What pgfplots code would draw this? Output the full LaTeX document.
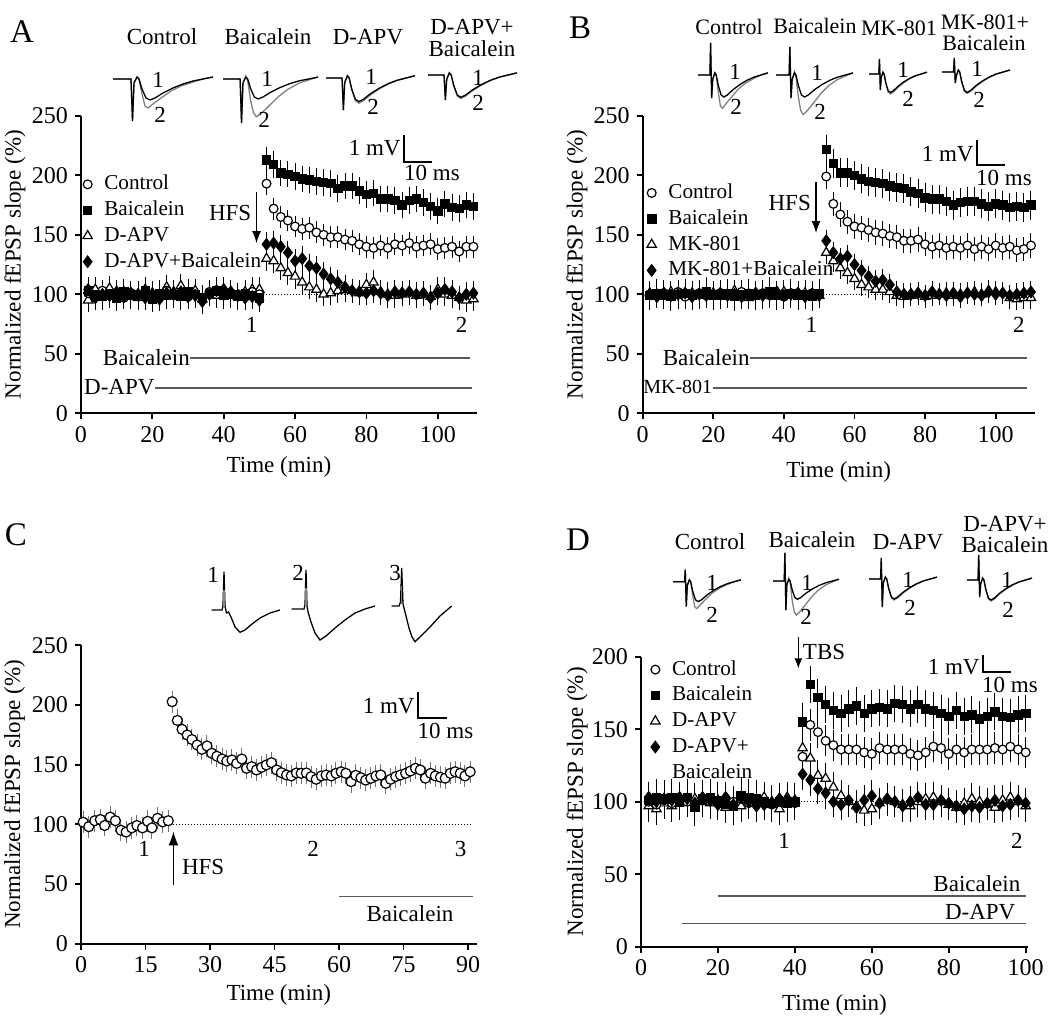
\documentclass[border=0pt]{standalone}
\usepackage{fontspec}
\setmainfont{Liberation Serif}
\usepackage{pgfplots}
\pgfplotsset{compat=1.18}
\usepackage{pgfplotstable}
\usetikzlibrary{arrows.meta}

\newcommand\fA{\fontsize{11.5}{13.5}\selectfont}
\newcommand\fB{\fontsize{11}{13}\selectfont}
\newcommand\fG{\fontsize{10.6}{12.5}\selectfont}
\newcommand\fT{\fontsize{12}{14}\selectfont}
\newcommand\fP{\fontsize{16.5}{19}\selectfont}
\newcommand\fS{\fontsize{10}{12}\selectfont}

\pgfplotsset{
  panel/.style={scale only axis, anchor=south west, axis lines=left,
    axis line style={-, line width=1.1pt}, tick align=outside, major tick length=3pt,
    every tick/.style={line width=0.9pt, black}, tick label style={font=\fT},
    label style={font=\fA}, /pgf/number format/assume math mode=true,
    clip=false, enlargelimits=false,
    legend style={draw=none, fill=none, font=\fG, inner sep=0pt, row sep=0.4pt,
      nodes={inner sep=1pt, text height=8pt, text depth=2.5pt},
      /tikz/every odd column/.style={column sep=5pt}},
    legend cell align=left,
    legend image code/.code={\draw[mark repeat=2,mark phase=2,##1] plot coordinates {(0cm,0cm)(0.15cm,0cm)(0.3cm,0cm)};}},
  sC/.style={only marks, color=black, mark=*, mark size=2.2pt, mark options={fill=white, draw=black, line width=0.6pt}},
  sB/.style={only marks, color=black, mark=square*, mark size=2.1pt, mark options={fill=black, draw=black}},
  sT/.style={only marks, color=black, mark=triangle*, mark size=2.7pt, mark options={fill=white, draw=black, line width=0.6pt}},
  sD/.style={only marks, color=black, mark=diamond*, mark size=3pt, mark options={fill=black, draw=black}},
  eb/.style={forget plot, error bars/y dir=both, error bars/y fixed=#1,
    error bars/error bar style={line width=0.5pt}, error bars/error mark options={line width=0.5pt, mark size=1.3pt}},
  overlay/.style={at={(0pt,0pt)}, anchor=south west, scale only axis, width=531.5pt, height=511pt,
    xmin=0, xmax=1063, ymin=0, ymax=1022, y dir=reverse, hide axis, clip=false}
}
\newcommand\legC{\addlegendimage{only marks, mark=*, mark size=2.2pt, mark options={fill=white, draw=black, line width=0.6pt}}}
\newcommand\legB{\addlegendimage{only marks, mark=square*, mark size=2.1pt, mark options={fill=black, draw=black}}}
\newcommand\legT{\addlegendimage{only marks, mark=triangle*, mark size=2.7pt, mark options={fill=white, draw=black, line width=0.6pt}}}
\newcommand\legD{\addlegendimage{only marks, mark=diamond*, mark size=3pt, mark options={fill=black, draw=black}}}

% fEPSP trace shapes: x (percent of width), y (px down), a (artifact down), u (artifact up)
\pgfplotstableread{
x y a u
0 0 0 0
17 0 0 0
18 0 0 1
19.5 0 1 0
21 4 0 0
24 -2 0 0
26 0 0 0
29 10 0 0
33 19 0 0
37 21 0 0
42 19 0 0
50 14 0 0
60 9 0 0
70 5 0 0
80 2 0 0
90 0 0 0
100 -2 0 0
}\tEa
\pgfplotstableread{
x y a u
0 0 0 0
17 0 0 0
18 0 0 1
19.5 0 1 0
21 4 0 0
24 -2 0 0
26 0 0 0
29 15 0 0
32 27 0 0
35 29 0 0
40 25 0 0
48 19 0 0
58 12 0 0
68 7 0 0
80 3 0 0
90 0 0 0
100 -2 0 0
}\tEb
\pgfplotstableread{
x y a u
0 0 0 0
17 0 0 0
18 0 0 1
19.5 0 1 0
21 4 0 0
24 -3 0 0
26 2 0 0
29 20 0 0
32 32 0 0
35 36 0 0
40 33 0 0
48 26 0 0
58 17 0 0
68 10 0 0
80 4 0 0
90 1 0 0
100 -2 0 0
}\tEc
% table, X0, Y0, W, S, A, U, style
\newcommand{\trc}[8]{\addplot[#8, line width=0.65pt] table[x expr={#2+\thisrow{x}*#4/100}, y expr={#3+\thisrow{y}*#5+\thisrow{a}*#6-\thisrow{u}*#7}] {#1};}

\pgfplotstableread{
t ctrl bai apv apvb
2 101 103 95 104
4 98 100 104 97
6 103 98 101 100
8 99 101 105 99
10 100 97 98 102
12 97 102 102 98
14 101 99 100 101
16 99 100 97 100
18 102 103 104 97
20 98 96 101 99
22 100 101 99 96
24 103 99 106 101
26 99 100 102 100
28 101 98 107 102
30 98 102 100 98
32 100 100 103 99
34 97 97 96 94
36 102 101 101 100
38 100 103 99 103
40 99 99 104 104
42 101 100 100 102
44 100 98 98 99
46 98 101 102 97
48 102 99 104 98
50 100 97 104 95
52 193 213 130 142
54 172 209 128 143
56 165 202 122 140
58 162 201 118 135
60 157 199 115 128
62 155 197 110 130
64 156 196 106 124
66 152 195 104 122
68 150 194 100 117
70 148 193 101 113
72 148 189 103 110
74 146 191 104 106
76 145 191 103 103
78 142 187 101 102
80 140 184 108 101
82 139 185 110 103
84 141 180 102 101
86 139 180 100 99
88 142 179 99 102
90 141 175 100 101
92 143 179 101 102
94 140 180 99 100
96 141 177 100 101
98 142 174 98 97
100 138 170 104 101
102 139 176 100 104
104 140 173 99 102
106 136 172 97 97
108 140 175 95 100
110 140 174 96 101
}\tA

\pgfplotstableread{
t ctrl bai mk mkb
2 100 99 101 100
4 99 101 100 98
6 101 100 98 101
8 100 98 102 99
10 102 100 99 100
12 98 101 100 101
14 100 99 101 98
16 101 100 99 100
18 99 102 100 99
20 100 99 101 100
22 101 100 98 101
24 99 101 100 99
26 100 98 103 100
28 102 100 99 98
30 99 101 97 100
32 100 99 100 101
34 101 100 99 99
36 99 102 101 100
38 100 99 100 102
40 98 100 102 99
42 101 101 99 100
44 100 99 100 101
46 99 100 101 98
48 101 98 100 100
50 100 101 99 99
52 199 222 135 145
54 176 210 128 135
56 167 202 122 130
58 161 202 118 132
60 157 200 113 125
62 156 197 108 120
64 154 195 106 115
66 152 194 104 111
68 151 193 104 112
70 149 191 102 108
72 148 190 99 102
74 145 189 98 100
76 145 186 99 100
78 146 185 100 101
80 142 181 98 99
82 140 180 99 102
84 141 180 100 100
86 139 178 101 99
88 140 175 99 101
90 139 177 100 98
92 141 178 101 101
94 138 178 102 100
96 140 176 100 99
98 138 174 103 102
100 141 176 102 100
102 139 175 101 101
104 140 173 97 99
106 137 174 96 100
108 138 173 97 101
110 141 175 97 102
}\tB

\pgfplotstableread{
t v
0.5 101.7
1.8 98
3.2 103
4.5 104
5.5 99
6.8 106
8 103
9.3 95
10.5 93.5
11.8 97
13 99
14.3 97
15.5 102.5
16.5 97
17.8 105
19 102
20.3 103
21.2 202.7
22.4 187
23.5 179.5
24.7 174.8
25.8 171
27.0 166.4
28.1 162.8
29.3 165.6
30.4 159.5
31.6 157
32.8 154.7
33.9 153
35.1 153.9
36.2 151
37.4 154.7
38.5 146.9
39.7 148.3
40.8 145.5
42.0 147.7
43.1 149.7
44.3 151.6
45.5 145.5
46.6 143.2
47.8 141.3
48.9 140.5
50.1 143
51.2 142.7
52.4 143
53.5 139.9
54.7 137.7
55.9 140.5
57.0 141.3
58.2 140.5
59.3 142.7
60.5 144
61.6 142.7
62.8 135.7
63.9 141
65.1 139
66.2 137
67.4 138.5
68.6 140.5
69.7 141.3
70.9 134.3
72.0 137.7
73.2 140
74.3 141.3
75.5 142.7
76.6 144.6
77.8 146.9
78.9 145.5
80.1 138.6
81.3 142.7
82.4 140.5
83.6 139.4
84.7 138.6
85.9 142.7
87.0 144
88.2 142.7
89.3 140.5
90.5 144
}\tC

\pgfplotstableread{
t ctrl bai apv apvb
2 100 101 97 103
4 98 103 95 100
6 101 102 99 102
8 99 103 97 101
10 102 100 99 103
12 100 103 101 102
14 98 96 102 99
16 101 102 100 103
18 100 103 99 101
20 99 101 101 98
22 101 98 96 103
24 100 97 99 98
26 102 104 97 103
28 99 103 101 100
30 101 102 99 97
32 100 100 103 98
34 98 99 100 99
36 101 100 95 102
38 100 99 103 101
40 99 100 101 100
42 131 155 137 119
44 153 181 130 115
46 148 172 118 109
48 142 167 116 106
50 139 163 110 100
52 136 161 104 98
54 136 164 100 101
56 136 166 97 96
58 134 161 94 101
60 133 164 95 104
62 137 165 99 99
64 136 164 101 102
66 136 168 100 100
68 136 167 98 97
70 133 164 97 100
72 132 167 100 103
74 134 164 102 98
76 138 163 103 98
78 137 161 100 101
80 133 159 98 99
82 136 163 96 97
84 134 159 99 95
86 136 160 102 97
88 136 157 100 96
90 136 159 98 99
92 137 162 96 101
94 136 159 101 97
96 138 158 103 98
98 136 160 100 101
100 134 161 97 99
}\tD

\begin{document}
\begin{tikzpicture}
\useasboundingbox (0,0) rectangle (531.5pt,511pt);

% ---------------- Panel A ----------------
\begin{axis}[panel, at={(40.5pt,304.35pt)}, width=198pt, height=148.75pt,
  xmin=0, xmax=111, ymin=0, ymax=250, xtick={0,20,...,100}, ytick={0,50,...,250},
  xlabel={Time (min)}, ylabel={Normalized fEPSP slope (\%)},
  xlabel style={at={(axis description cs:0.5,-0.18)}, anchor=center},
  ylabel style={at={(axis description cs:-0.167,0.5)}, anchor=center},
  legend style={at={(axis description cs:0.004,0.813)}, anchor=north west}]
\draw[densely dotted, line width=0.5pt] (axis cs:51,100) -- (axis cs:111,100);
\addplot[sT, eb=8] table[x=t,y=apv]{\tA};
\addplot[sC, eb=7] table[x=t,y=ctrl]{\tA};
\addplot[sB, eb=9] table[x=t,y=bai]{\tA};
\addplot[sD, eb=8] table[x=t,y=apvb]{\tA};
\legC\addlegendentry{Control}
\legB\addlegendentry{Baicalein}
\legT\addlegendentry{D-APV}
\legD\addlegendentry{D-APV+Baicalein}
\draw[-{Latex[length=6pt,width=4.5pt]}, line width=0.6pt] (axis cs:49.2,186) -- (axis cs:49.2,143);
\node[font=\fA, anchor=east, inner sep=1pt] at (axis cs:48.4,168) {HFS};
\draw[black!65, line width=0.8pt] (axis cs:30.6,46.7) -- (axis cs:109,46.7);
\node[font=\fA, anchor=east, inner sep=0pt] at (axis cs:30.6,46.5) {Baicalein};
\draw[black!65, line width=0.8pt] (axis cs:20.7,21.5) -- (axis cs:109.5,21.5);
\node[font=\fA, anchor=east, inner sep=0pt] at (axis cs:20.7,21.8) {D-APV};
\node[font=\fA] at (axis cs:47.8,74) {1};
\node[font=\fA] at (axis cs:106.7,74) {2};
\end{axis}

% ---------------- Panel B ----------------
\begin{axis}[panel, at={(321.35pt,304.35pt)}, width=195.9pt, height=148.75pt,
  xmin=0, xmax=111, ymin=0, ymax=250, xtick={0,20,...,100}, ytick={0,50,...,250},
  xlabel={Time (min)}, ylabel={Normalized fEPSP slope (\%)},
  xlabel style={at={(axis description cs:0.5,-0.196)}, anchor=center},
  ylabel style={at={(axis description cs:-0.168,0.5)}, anchor=center},
  legend style={at={(axis description cs:0.01,0.784)}, anchor=north west}]
\draw[densely dotted, line width=0.5pt] (axis cs:51,100) -- (axis cs:111,100);
\addplot[sT, eb=7] table[x=t,y=mk]{\tB};
\addplot[sC, eb=8] table[x=t,y=ctrl]{\tB};
\addplot[sB, eb=10] table[x=t,y=bai]{\tB};
\addplot[sD, eb=7] table[x=t,y=mkb]{\tB};
\legC\addlegendentry{Control}
\legB\addlegendentry{Baicalein}
\legT\addlegendentry{MK-801}
\legD\addlegendentry{MK-801+Baicalein}
\draw[-{Latex[length=6pt,width=4.5pt]}, line width=0.6pt] (axis cs:49.1,194.6) -- (axis cs:49.1,151.5);
\node[font=\fA, anchor=east, inner sep=1pt] at (axis cs:48.3,176.5) {HFS};
\draw[black!65, line width=0.8pt] (axis cs:30.4,46.7) -- (axis cs:109,46.7);
\node[font=\fA, anchor=east, inner sep=0pt] at (axis cs:30.4,46.5) {Baicalein};
\draw[black!65, line width=0.8pt] (axis cs:19.8,21.5) -- (axis cs:109,21.5);
\node[font=\fS, anchor=east, inner sep=0pt] at (axis cs:19.8,21.8) {MK-801};
\node[font=\fA] at (axis cs:47.8,74) {1};
\node[font=\fA] at (axis cs:106.6,74) {2};
\end{axis}

% ---------------- Panel C ----------------
\begin{axis}[panel, at={(40.5pt,39.15pt)}, width=197.8pt, height=149.25pt,
  xmin=0, xmax=92, ymin=0, ymax=250, xtick={0,15,...,90}, ytick={0,50,...,250},
  xlabel={Time (min)}, ylabel={Normalized fEPSP slope (\%)},
  xlabel style={at={(axis description cs:0.5,-0.172)}, anchor=center},
  ylabel style={at={(axis description cs:-0.168,0.5)}, anchor=center}]
\draw[densely dotted, line width=0.5pt] (axis cs:21.5,100) -- (axis cs:91,100);
\addplot[only marks, color=black, mark=*, mark size=2.5pt, mark options={fill=white, draw=black, line width=0.6pt},
  forget plot, error bars/y dir=both, error bars/y fixed=7,
  error bars/error bar style={line width=0.5pt, black!55}, error bars/error mark options={line width=0.5pt, black!55, mark size=1.3pt}]
  table[x=t,y=v]{\tC};
\draw[-{Latex[length=7pt,width=5pt]}, line width=0.6pt] (axis cs:21.5,49) -- (axis cs:21.5,94);
\node[font=\fA, anchor=west, inner sep=0pt] at (axis cs:23.4,64) {HFS};
\draw[black!65, line width=0.8pt] (axis cs:60,39.4) -- (axis cs:91.1,39.4);
\node[font=\fA] at (axis cs:76.5,25.5) {Baicalein};
\node[font=\fA] at (axis cs:14.7,79) {1};
\node[font=\fA] at (axis cs:54,79) {2};
\node[font=\fA] at (axis cs:88.3,79) {3};
\end{axis}

% ---------------- Panel D ----------------
\begin{axis}[panel, at={(320.5pt,37.65pt)}, width=193.5pt, height=145pt,
  xmin=0, xmax=100.6, ymin=0, ymax=200, xtick={0,20,...,100}, ytick={0,50,...,200},
  xlabel={Time (min)}, ylabel={Normalized fEPSP slope (\%)},
  xlabel style={at={(axis description cs:0.5,-0.201)}, anchor=center},
  ylabel style={at={(axis description cs:-0.165,0.5)}, anchor=center},
  legend style={at={(axis description cs:0.014,1.0)}, anchor=north west}]
\draw[densely dotted, line width=0.5pt] (axis cs:40,100) -- (axis cs:100,100);
\addplot[sT, eb=9] table[x=t,y=apv]{\tD};
\addplot[sC, eb=9] table[x=t,y=ctrl]{\tD};
\addplot[sB, eb=11] table[x=t,y=bai]{\tD};
\addplot[sD, eb=9] table[x=t,y=apvb]{\tD};
\legC\addlegendentry{Control}
\legB\addlegendentry{Baicalein}
\legT\addlegendentry{D-APV}
\legD\addlegendentry{D-APV+}
\addlegendimage{empty legend}
\addlegendentry{Baicalein}
\draw[-{Latex[length=5pt,width=4pt]}, line width=0.6pt] (axis cs:40.9,213.8) -- (axis cs:40.9,192);
\node[font=\fA, anchor=west, inner sep=0pt] at (axis cs:42,203.4) {TBS};
\draw[black!65, line width=0.8pt] (axis cs:19.9,35) -- (axis cs:100,35);
\node[font=\fA, anchor=east, inner sep=0pt] at (axis cs:98.7,43.2) {Baicalein};
\draw[black!65, line width=0.8pt] (axis cs:10.7,15.9) -- (axis cs:100,15.9);
\node[font=\fA, anchor=east, inner sep=0pt] at (axis cs:97.4,24.1) {D-APV};
\node[font=\fA] at (axis cs:37.2,73) {1};
\node[font=\fA] at (axis cs:97.7,73) {2};
\end{axis}

% ---------------- overlay: traces, titles, scale bars ----------------
\begin{axis}[overlay]
% Panel A traces
\trc{\tEb}{113}{79}{100}{1}{42}{0}{black!50}
\trc{\tEa}{113}{79}{100}{1}{42}{0}{black}
\trc{\tEc}{223}{79}{95}{1.05}{44}{0}{black!50}
\trc{\tEa}{223}{79}{95}{0.95}{44}{0}{black}
\trc{\tEa}{326}{78}{89}{1.2}{32}{0}{black!50}
\trc{\tEa}{326}{78}{89}{1.12}{32}{0}{black}
\trc{\tEa}{428}{75}{89}{1.12}{25}{0}{black!50}
\trc{\tEa}{428}{75}{89}{1.06}{25}{0}{black}
% Panel B traces
\trc{\tEb}{698}{75}{70}{1.15}{23}{32}{black!50}
\trc{\tEa}{698}{75}{70}{1.05}{23}{32}{black}
\trc{\tEc}{776}{75}{77}{1.1}{23}{28}{black!50}
\trc{\tEa}{776}{75}{77}{1.05}{23}{28}{black}
\trc{\tEa}{869}{74}{58}{0.95}{16}{15}{black!50}
\trc{\tEa}{869}{74}{58}{0.88}{16}{15}{black}
\trc{\tEa}{942}{72}{68}{1.02}{11}{14}{black!50}
\trc{\tEa}{942}{72}{68}{0.97}{11}{14}{black}
% Panel D traces
\trc{\tEb}{673}{581.7}{68}{0.93}{25}{12}{black!50}
\trc{\tEa}{673}{581.7}{68}{0.95}{25}{12}{black}
\trc{\tEc}{773}{581}{66}{0.95}{29}{28}{black!50}
\trc{\tEa}{773}{581}{66}{0.87}{29}{28}{black}
\trc{\tEa}{869}{579}{68}{1.0}{28}{21}{black!50}
\trc{\tEa}{869}{579}{68}{0.95}{28}{21}{black}
\trc{\tEa}{967}{580}{65}{1.0}{17}{25}{black!50}
\trc{\tEa}{967}{580}{65}{0.95}{17}{25}{black}
% Panel C traces
\addplot[black, line width=0.65pt] coordinates {(211.7,610)(222,610)(223,606)(224,571.7)(225,606)(226.5,613)(228.5,612)(231,617)(235,627)(240,632.3)(245,630)(252,624)(260,618)(270,613)(280,610)};
\addplot[black!50, line width=0.65pt] coordinates {(224,606)(224,590)};
\addplot[black, line width=0.65pt] coordinates {(291.7,609)(304,609)(305,605)(306,570)(307,606)(308,612)(311,622)(315,633)(320,640)(326,636)(335,628)(345,620)(355,613)(365,609)(375,606)};
\addplot[black!50, line width=0.65pt] coordinates {(306,606)(306,588)};
\addplot[black, line width=0.65pt] coordinates {(391.7,606)(399,606)(400.5,602)(401.7,568)(403,604)(405,612)(409,628)(412,637)(415,641.7)(421,636)(430,627)(440,616)(451.7,606)};
\addplot[black!50, line width=0.65pt] coordinates {(401.7,604)(401.7,586)};

% panel letters
\node[font=\fP] at (axis cs:22,32) {A};
\node[font=\fP] at (axis cs:580,28) {B};
\node[font=\fP] at (axis cs:16,535) {C};
\node[font=\fP] at (axis cs:578,540) {D};

% titles A
\node[font=\fA] at (axis cs:162,37) {Control};
\node[font=\fA] at (axis cs:268,37) {Baicalein};
\node[font=\fA] at (axis cs:368,37) {D-APV};
\node[font=\fA] at (axis cs:472,27) {D-APV+};
\node[font=\fA] at (axis cs:472,49) {Baicalein};
% trace numbers A
\node[font=\fA] at (axis cs:158,80) {1};
\node[font=\fA] at (axis cs:160,115) {2};
\node[font=\fA] at (axis cs:267,79) {1};
\node[font=\fA] at (axis cs:264,120) {2};
\node[font=\fA] at (axis cs:371,77) {1};
\node[font=\fA] at (axis cs:373,107) {2};
\node[font=\fA] at (axis cs:478,78) {1};
\node[font=\fA] at (axis cs:478,103) {2};
% titles B
\node[font=\fB] at (axis cs:729,27) {Control};
\node[font=\fB] at (axis cs:815,26) {Baicalein};
\node[font=\fB] at (axis cs:899,28) {MK-801};
\node[font=\fB] at (axis cs:985,22) {MK-801+};
\node[font=\fB] at (axis cs:984,43) {Baicalein};
\node[font=\fA] at (axis cs:735,72) {1};
\node[font=\fA] at (axis cs:736,107) {2};
\node[font=\fA] at (axis cs:817,73) {1};
\node[font=\fA] at (axis cs:820,112) {2};
\node[font=\fA] at (axis cs:903,70) {1};
\node[font=\fA] at (axis cs:908,99) {2};
\node[font=\fA] at (axis cs:977,69) {1};
\node[font=\fA] at (axis cs:979,100) {2};
% C trace numbers
\node[font=\fA] at (axis cs:213,575) {1};
\node[font=\fA] at (axis cs:298,573) {2};
\node[font=\fA] at (axis cs:395,573) {3};
% titles D
\node[font=\fA] at (axis cs:710,542) {Control};
\node[font=\fA] at (axis cs:812,540) {Baicalein};
\node[font=\fA] at (axis cs:908,542) {D-APV};
\node[font=\fA] at (axis cs:1005,524) {D-APV+};
\node[font=\fA] at (axis cs:1005,545) {Baicalein};
\node[font=\fA] at (axis cs:712,583) {1};
\node[font=\fA] at (axis cs:712,615) {2};
\node[font=\fA] at (axis cs:807,583) {1};
\node[font=\fA] at (axis cs:806,617) {2};
\node[font=\fA] at (axis cs:908,580) {1};
\node[font=\fA] at (axis cs:910,608) {2};
\node[font=\fA] at (axis cs:1007,580) {1};
\node[font=\fA] at (axis cs:1008,610) {2};

% scale bars
\draw[line width=0.8pt] (axis cs:404,135) -- (axis cs:404,162) -- (axis cs:432,162);
\node[font=\fA, anchor=east, inner sep=1pt] at (axis cs:403,148) {1 mV};
\node[font=\fA] at (axis cs:432,173) {10 ms};
\draw[line width=0.8pt] (axis cs:977,140) -- (axis cs:977,165) -- (axis cs:1005,165);
\node[font=\fA, anchor=east, inner sep=1pt] at (axis cs:976,154) {1 mV};
\node[font=\fA] at (axis cs:1004,178) {10 ms};
\draw[line width=0.8pt] (axis cs:418,692) -- (axis cs:418,718) -- (axis cs:447,718);
\node[font=\fA, anchor=east, inner sep=1pt] at (axis cs:417,706) {1 mV};
\node[font=\fA] at (axis cs:445.5,730.7) {10 ms};
\draw[line width=0.8pt] (axis cs:983,655) -- (axis cs:983,672) -- (axis cs:1011,672);
\node[font=\fA, anchor=east, inner sep=1pt] at (axis cs:982,666.7) {1 mV};
\node[font=\fA] at (axis cs:1010,685) {10 ms};
\end{axis}
\end{tikzpicture}
\end{document}
